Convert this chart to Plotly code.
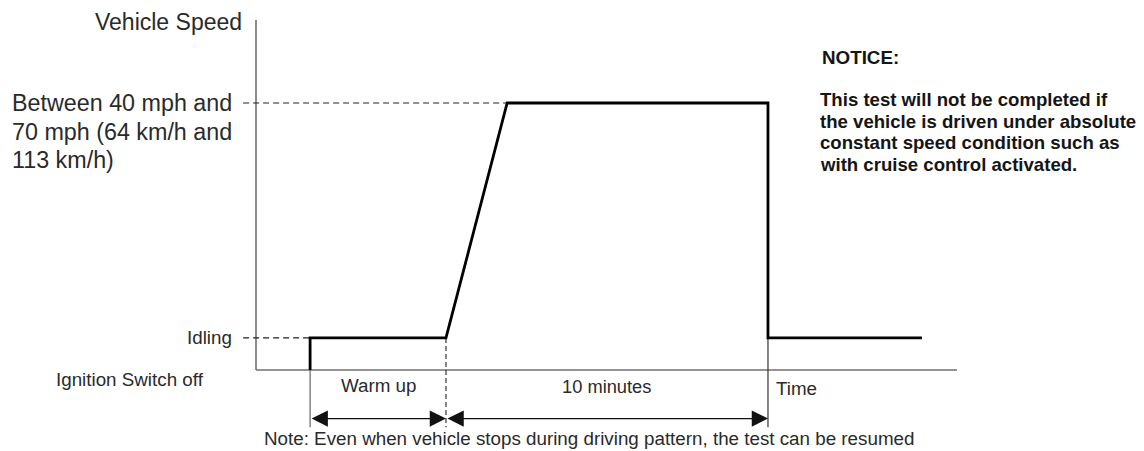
import plotly.graph_objects as go

# ---- data (time in minutes, speed as a normalised level: cruise = 1) ----
signal_time = [1.68, 1.68, 5.90, 7.80, 15.90, 15.90, 20.68]
signal_speed = [0.0, 0.12, 0.12, 1.0, 1.0, 0.12, 0.12]

idle_level = 0.12
cruise_level = 1.0
axis_time_end = 21.77
axis_speed_top = 1.311
leader_start = -0.40

t_key_on = 1.68
t_ramp_start = 5.90
t_cruise = 7.80
t_stop = 15.90

arrow_level = -0.182
tick_bottom = -0.214

speed_label_lines = ["Between 40 mph and", "70 mph (64 km/h and", "113 km/h)"]
notice_title = "NOTICE:"
notice_lines = [
    "This test will not be completed if",
    "the vehicle is driven under absolute",
    "constant speed condition such as",
    "with cruise control activated.",
]

# Figure fills the whole page (body margin removed in post_script).
W, H = 1144, 451
X0, KX = 256, 32.2   # px of time 0, px per minute
Y0, KY = 370, 267    # px of speed 0, px per level unit
xr = [(0 - X0) / KX, (W - X0) / KX]
yr = [(Y0 - H) / KY, (Y0 - 0) / KY]
px_t = lambda px: (px - X0) / KX
px_s = lambda py: (Y0 - py) / KY

FONT = "Liberation Sans, Arial, sans-serif"
TXT = "#2a2a2a"
AX = "#707070"

fig = go.Figure()

def line(x, y, color="black", width=1.0, dash="solid"):
    fig.add_trace(go.Scatter(x=x, y=y, mode="lines", hoverinfo="skip",
                             line=dict(color=color, width=width, dash=dash),
                             showlegend=False))

# axes
line([0, 0], [0, axis_speed_top], color=AX, width=1.6)
line([0, axis_time_end], [0, 0], color=AX, width=1.6)

# leader dashes
line([leader_start, t_cruise], [cruise_level, cruise_level], color="#222", width=1.2, dash="6px,4px")
line([leader_start, t_key_on], [idle_level, idle_level], color="#222", width=1.2, dash="6px,4px")

# guide verticals
line([t_key_on, t_key_on], [0, tick_bottom], color=AX, width=1.3)
line([t_ramp_start, t_ramp_start], [idle_level, tick_bottom], color="#333", width=1.2, dash="5px,3px")
line([t_stop, t_stop], [idle_level, tick_bottom], color="#333", width=1.2)

# signal
line(signal_time, signal_speed, color="black", width=2.8)

# dimension arrows
for a, b in [(t_key_on, t_ramp_start), (t_ramp_start, t_stop)]:
    fig.add_annotation(x=b, y=arrow_level, ax=a, ay=arrow_level, xref="x", yref="y",
                       axref="x", ayref="y", text="", showarrow=True,
                       arrowhead=2, startarrowhead=2, arrowside="end+start",
                       arrowsize=2.6, startarrowsize=2.6, arrowwidth=1.25,
                       arrowcolor="#111", standoff=0, startstandoff=0)

def label(text, x, y, size=18.8, xanchor="left", bold=False, color=TXT):
    fig.add_annotation(x=x, y=y, xref="x", yref="y", text=("<b>%s</b>" % text) if bold else text,
                       showarrow=False, xanchor=xanchor, yanchor="middle", borderpad=0,
                       font=dict(family=FONT, size=size, color=color))

label("Vehicle Speed", leader_start, px_s(22), size=23, xanchor="right")
for i, s in enumerate(speed_label_lines):
    label(s, px_t(11), cruise_level - i * 28.5 / KY, size=23.3)
label("Idling", px_t(233), idle_level, xanchor="right")
label("Ignition Switch off", px_t(55), px_s(379))
label("Warm up", (t_key_on + t_ramp_start) / 2, px_s(385), xanchor="center")
label("10 minutes", (t_ramp_start + t_stop) / 2, px_s(386), size=18.3, xanchor="center")
label("Time", px_t(775), px_s(388))
label("Note: Even when vehicle stops during driving pattern, the test can be resumed",
      px_t(263), px_s(438))
label(notice_title, px_t(821), px_s(57), size=18.8, bold=True, color="#151515")
for i, s in enumerate(notice_lines):
    label(s, px_t(819), px_s(99.5 + i * 21.6), size=18.6, bold=True, color="#151515")

fig.update_layout(
    width=W, height=H, margin=dict(l=0, r=0, t=0, b=0),
    plot_bgcolor="white", paper_bgcolor="white",
    xaxis=dict(range=xr, visible=False, fixedrange=True),
    yaxis=dict(range=yr, visible=False, fixedrange=True),
)
fig.write_html(
    "out.html",
    config={"displayModeBar": False},
    post_script="document.body.style.margin='0';"
                "document.documentElement.style.overflow='hidden';",
)
